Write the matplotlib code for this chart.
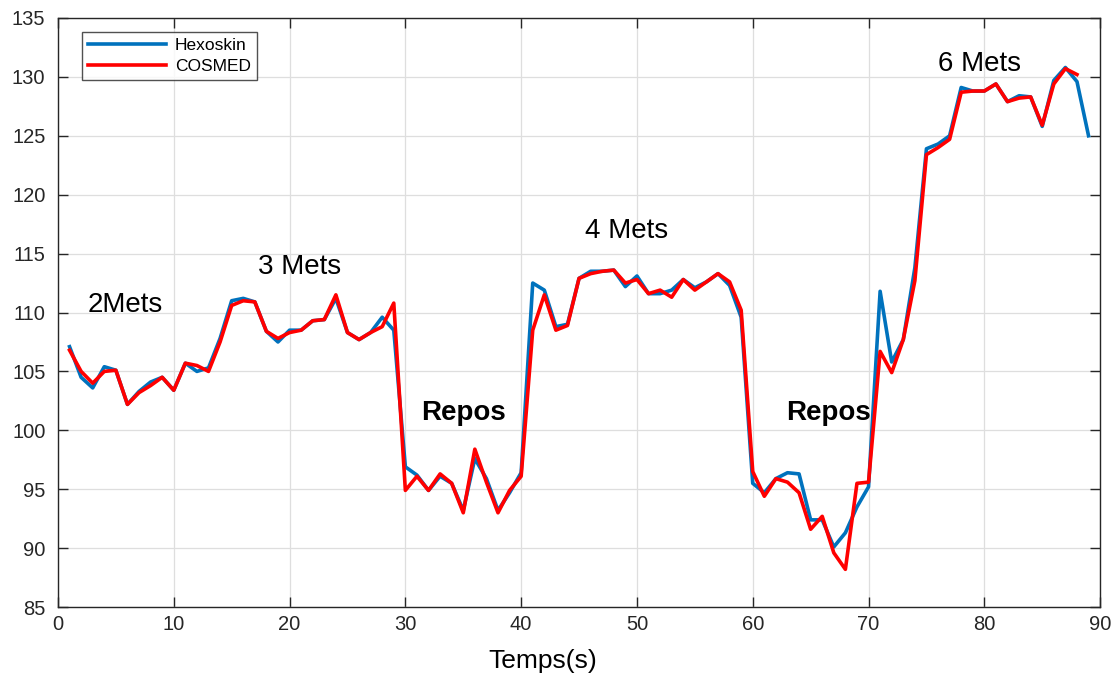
import matplotlib
matplotlib.use("Agg")
import matplotlib.pyplot as plt

plt.rcParams['font.family'] = ['Liberation Sans', 'DejaVu Sans']

# Heart rate (bpm) sampled each second
time_hexo = list(range(1, 90))
hexoskin = [
    107.1, 104.5, 103.6, 105.4, 105.1, 102.2, 103.3, 104.1, 104.5, 103.4,
    105.7, 105.0, 105.3, 107.8, 111.0, 111.2, 110.9, 108.4, 107.5, 108.5,
    108.5, 109.3, 109.4, 111.2, 108.3, 107.7, 108.3, 109.6, 108.5, 96.9,
    96.2, 94.9, 96.1, 95.5, 93.2, 97.6, 95.9, 93.2, 94.7, 96.4,
    112.5, 111.9, 108.8, 109.0, 112.9, 113.5, 113.5, 113.6, 112.2, 113.1,
    111.6, 111.6, 111.9, 112.8, 112.1, 112.6, 113.3, 112.3, 109.6, 95.5,
    94.7, 95.9, 96.4, 96.3, 92.4, 92.4, 90.1, 91.3, 93.5, 95.2,
    111.8, 105.8, 107.7, 113.8, 123.9, 124.3, 125.0, 129.1, 128.8, 128.8,
    129.4, 127.9, 128.4, 128.3, 125.8, 129.7, 130.8, 129.6, 125.0,
]

time_cosmed = list(range(1, 89))
cosmed = [
    106.8, 105.0, 104.0, 105.0, 105.1, 102.2, 103.2, 103.8, 104.5, 103.4,
    105.7, 105.5, 105.0, 107.5, 110.6, 111.0, 110.9, 108.4, 107.8, 108.3,
    108.5, 109.3, 109.4, 111.5, 108.3, 107.7, 108.3, 108.8, 110.8, 94.9,
    96.1, 94.9, 96.3, 95.5, 93.0, 98.4, 95.6, 93.0, 94.9, 96.1,
    108.5, 111.5, 108.5, 108.9, 112.9, 113.3, 113.5, 113.6, 112.5, 112.8,
    111.6, 111.9, 111.3, 112.8, 111.9, 112.6, 113.3, 112.6, 110.2, 96.5,
    94.4, 95.9, 95.6, 94.7, 91.6, 92.7, 89.6, 88.2, 95.5, 95.6,
    106.7, 104.9, 107.7, 112.7, 123.4, 124.0, 124.7, 128.7, 128.8, 128.8,
    129.4, 127.9, 128.2, 128.3, 125.9, 129.4, 130.7, 130.2,
]

x_ticks = [0, 10, 20, 30, 40, 50, 60, 70, 80, 90]
y_ticks = [85, 90, 95, 100, 105, 110, 115, 120, 125, 130, 135]

# Activity phase labels: (text, x, y, bold)
phase_labels = [
    ("2Mets", 5.8, 110.6, False),
    ("3 Mets", 20.9, 113.9, False),
    ("Repos", 35.0, 101.5, True),
    ("4 Mets", 49.1, 116.9, False),
    ("Repos", 66.5, 101.5, True),
    ("6 Mets", 79.6, 131.1, False),
]

fig = plt.figure(figsize=(11.17, 6.79), dpi=100)
ax = fig.add_axes([0.0519, 0.106, 0.933, 0.8675])

ax.plot(time_hexo, hexoskin, color='#0072BD', linewidth=2.6, label='Hexoskin')
ax.plot(time_cosmed, cosmed, color='#FF0000', linewidth=2.6, label='COSMED')

ax.set_xlim(0, 90)
ax.set_ylim(85, 135)
ax.set_xticks(x_ticks)
ax.set_yticks(y_ticks)
ax.grid(True, color='#DEDEDE', linewidth=0.9)
ax.set_axisbelow(True)
ax.tick_params(direction='in', length=7, width=1, top=True, right=True,
               labelsize=14.5, colors='#262626', labelcolor='#262626')
ax.tick_params(axis='x', pad=6)
ax.tick_params(axis='y', pad=9)
for s in ax.spines.values():
    s.set_color('#262626')
    s.set_linewidth(1.0)

ax.set_xlabel('Temps(s)', fontsize=19, color='black')
ax.xaxis.set_label_coords(0.465, -0.071)

for text, x, y, bold in phase_labels:
    ax.text(x, y, text, ha='center', va='center', fontsize=20,
            fontweight='bold' if bold else 'normal', color='black')

leg = ax.legend(loc='upper left', bbox_to_anchor=(0.023, 0.976), fontsize=12.5,
                frameon=True, fancybox=False, edgecolor='#262626',
                handlelength=4.5, handletextpad=0.5, borderpad=0.35,
                labelspacing=0.3, borderaxespad=0)
leg.get_frame().set_linewidth(1.0)

fig.savefig('out.png', dpi=100)
